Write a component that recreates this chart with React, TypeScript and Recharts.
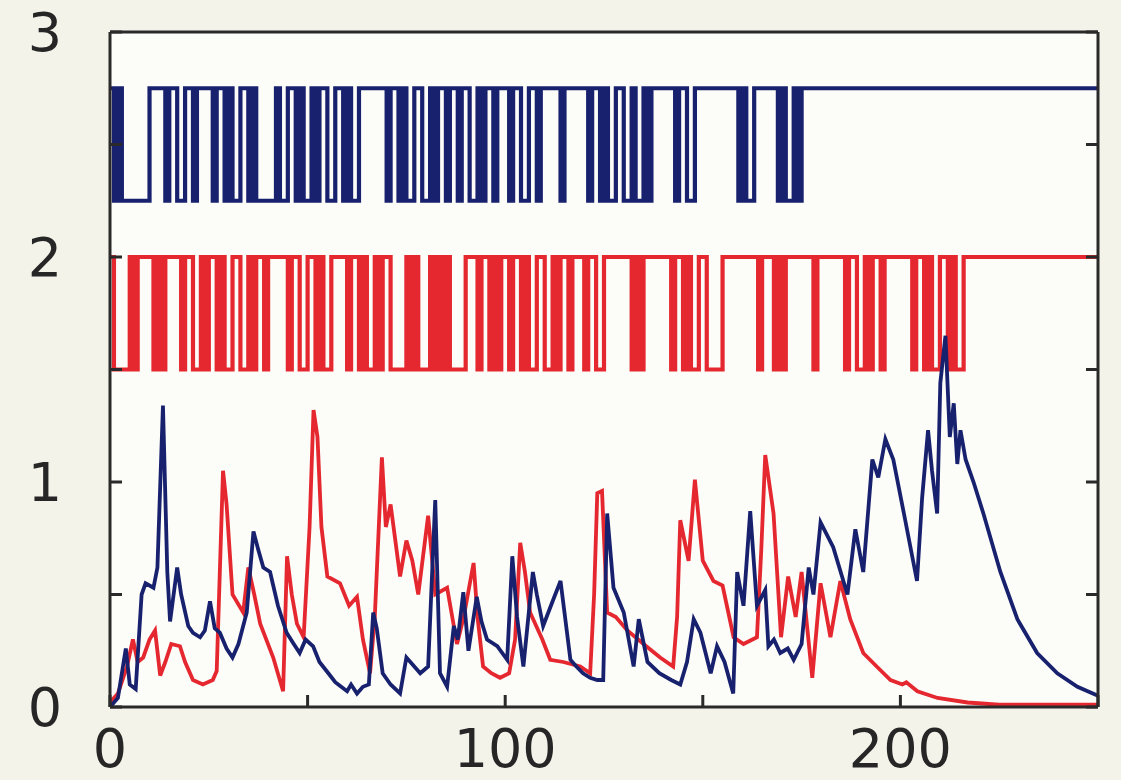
import { LineChart, Line, XAxis, YAxis, CartesianGrid } from 'recharts'

const xTicks = [0, 50, 100, 150, 200, 250]
const xLabels = [0, 100, 200]
const yTicks = [0, 0.5, 1, 1.5, 2, 2.5, 3]
const yLabels = [0, 1, 2, 3]

// channel state per time step (1 = open), last state holds to the end
const blueStates = [
  '1010000000', '1111', '011001101', '111', '011010011010', '0000',
  '1001101001011001101001', '111111', '0110100110010110', '11', '0110010110',
  '111', '011001101', '1111', '01', '11111', '0110100110010', '010', '111111',
  '011001', '1111111111', '01001', '11111', '010010', '1',
].join('')

const redStates = [
  '1000', '010', '1111', '0101', '111', '0110010110100110010110', '11111',
  '011001101001', '111', '0110100101100', '00', '101', '000', '10101', '0000',
  '11101101011011010', '0110010110', '111', '011001', '111111', '010', '1111111',
  '0110100110', '000', '111111111', '0', '111', '010', '1111111', '01', '111111',
  '0110010110', '1111111', '0110100110100', '1',
].join('')

const blueLevels = [2.25, 2.75]
const redLevels = [1.5, 2.0]

// [time, rate]
const blueRate: [number, number][] = [
  [0, 0], [2, 0.04], [4, 0.26], [5, 0.1], [6.5, 0.08], [8, 0.5], [9, 0.55], [11, 0.53],
  [12, 0.62], [13.4, 1.34], [14.5, 0.6], [15.2, 0.38], [17, 0.62], [18, 0.5], [19.8, 0.36],
  [21, 0.33], [22.8, 0.31], [24, 0.34], [25.3, 0.47], [26.5, 0.35], [27.8, 0.33], [29.5, 0.26],
  [31, 0.22], [32.5, 0.28], [34.6, 0.42], [36.3, 0.78], [37.5, 0.7], [38.8, 0.62], [40.5, 0.6],
  [42.5, 0.45], [44.7, 0.33], [46.5, 0.28], [48, 0.24], [49.5, 0.3], [51.4, 0.27], [53, 0.2],
  [54.8, 0.16], [57, 0.11], [58.5, 0.09], [60, 0.07], [61, 0.1], [62.5, 0.06], [64, 0.09],
  [65.5, 0.1], [66.6, 0.42], [67.5, 0.35], [69, 0.15], [71, 0.1], [73.4, 0.06], [75, 0.22],
  [77, 0.18], [78.5, 0.15], [80.5, 0.18], [82.3, 0.92], [83.5, 0.15], [85.3, 0.09], [87, 0.36],
  [88, 0.3], [89.4, 0.51], [90.7, 0.25], [92.8, 0.49], [94, 0.38], [95.4, 0.3], [98, 0.27],
  [100.5, 0.21], [101.8, 0.67], [103, 0.4], [104.6, 0.18], [107, 0.6], [108, 0.5], [109.6, 0.36],
  [112, 0.47], [114, 0.56], [116.5, 0.21], [118, 0.18], [119.7, 0.15], [121.5, 0.13],
  [123.3, 0.12], [124.8, 0.12], [125.8, 0.86], [127.4, 0.53], [130, 0.42], [132.5, 0.18],
  [133.8, 0.39], [136, 0.2], [139, 0.15], [142, 0.12], [144.3, 0.1], [146, 0.2], [147.7, 0.39],
  [149.4, 0.33], [152, 0.15], [153.6, 0.27], [155.5, 0.2], [157.7, 0.06], [158.7, 0.6],
  [160.3, 0.45], [162, 0.87], [163.7, 0.45], [165.8, 0.52], [166.6, 0.27], [168, 0.3],
  [169.6, 0.24], [171.5, 0.26], [173, 0.21], [175, 0.28], [176.8, 0.62], [178, 0.5],
  [179.8, 0.82], [183, 0.71], [186.6, 0.5], [188.6, 0.79], [190.6, 0.6], [192.9, 1.1],
  [194.4, 1.02], [196.2, 1.19], [198.2, 1.1], [201, 0.85], [204.2, 0.56], [205.5, 0.93],
  [207, 1.23], [208, 1.05], [209.3, 0.86], [210.1, 1.44], [211.4, 1.65], [212.5, 1.2],
  [213.5, 1.35], [214.4, 1.08], [215.2, 1.23], [216.5, 1.1], [218.5, 1.0], [221, 0.86],
  [225.3, 0.6], [229.6, 0.39], [234.6, 0.24], [239.7, 0.15], [244.8, 0.09], [250, 0.05],
]

const redRate: [number, number][] = [
  [0, 0.02], [2, 0.06], [4.3, 0.18], [5.8, 0.3], [7, 0.2], [8.4, 0.22], [10, 0.3], [11.4, 0.34],
  [12.7, 0.14], [14, 0.2], [15.5, 0.28], [17.7, 0.27], [19, 0.2], [21, 0.12], [23.5, 0.1],
  [26, 0.12], [27, 0.16], [28.6, 1.05], [29.5, 0.9], [31, 0.5], [33.7, 0.42], [35, 0.62],
  [36.5, 0.5], [38, 0.37], [41.3, 0.22], [43.8, 0.07], [44.8, 0.67], [46, 0.5], [47.3, 0.37],
  [49, 0.31], [50.5, 0.8], [51.5, 1.32], [52.5, 1.2], [53.5, 0.8], [55, 0.58], [58.2, 0.55],
  [60.5, 0.45], [62.5, 0.49], [64, 0.3], [65.8, 0.15], [67, 0.4], [68.8, 1.11], [69.8, 0.8],
  [71, 0.9], [73.4, 0.58], [75, 0.74], [76.5, 0.65], [78, 0.5], [80.5, 0.85], [82.3, 0.5],
  [85.3, 0.53], [87.8, 0.28], [89.5, 0.4], [92, 0.64], [93, 0.4], [94.4, 0.18], [96.5, 0.15],
  [98.7, 0.13], [101, 0.15], [102.5, 0.3], [103.8, 0.73], [105, 0.6], [106.3, 0.42],
  [109.4, 0.3], [111.4, 0.21], [114.7, 0.2], [119, 0.18], [121.5, 0.15], [122.5, 0.5],
  [123.3, 0.95], [124.5, 0.96], [125.8, 0.42], [128, 0.4], [130.9, 0.34], [135, 0.28],
  [139.2, 0.22], [142.5, 0.18], [143.5, 0.4], [144.3, 0.83], [146.4, 0.65], [148, 1.01],
  [150, 0.65], [152.7, 0.56], [155, 0.54], [157.8, 0.31], [160.3, 0.28], [163.7, 0.31],
  [164.8, 0.7], [165.8, 1.12], [167.9, 0.86], [169.8, 0.31], [171.6, 0.58], [173.5, 0.4],
  [175, 0.6], [177.7, 0.13], [179.8, 0.55], [182.3, 0.31], [184.8, 0.56], [187.3, 0.39],
  [190.6, 0.24], [194, 0.18], [197.5, 0.12], [200.5, 0.1], [201.5, 0.11], [204.3, 0.07],
  [209.4, 0.04], [217, 0.02], [225, 0.01], [250, 0.01],
]

const T_END = 250

function toSteps(states: string, levels: number[]) {
  const rows = []
  for (let t = 0; t <= T_END; t++) {
    const s = t < states.length ? states[t] : states[states.length - 1]
    rows.push({ t, v: levels[s === '1' ? 1 : 0] })
  }
  return rows
}

const toRows = (pairs: [number, number][]) => pairs.map(([t, v]) => ({ t, v }))

const NAVY = '#18216e'
const RED = '#e5282f'
const FRAME = '#2a2a2a'
const tickFont = { fontSize: 54, fill: '#262626', fontFamily: 'DejaVu Sans' }

export default function App() {
  const blueWave = toSteps(blueStates, blueLevels)
  const redWave = toSteps(redStates, redLevels)

  return (
    <div style={{ position: 'absolute', left: 0, top: 0, width: 1121, height: 780, background: '#f4f3ea' }}>
      <LineChart width={1121} height={780} margin={{ top: 0, right: 0, bottom: 0, left: 40 }}>
        <CartesianGrid horizontal={false} vertical={false} fill="#fcfcf9" />
        <XAxis
          dataKey="t"
          type="number"
          domain={[0, T_END]}
          ticks={xTicks}
          interval={0}
          height={73}
          tickSize={-12}
          tickMargin={34}
          tick={tickFont}
          tickFormatter={(v: number) => (xLabels.includes(v) ? String(v) : '')}
          axisLine={{ stroke: FRAME, strokeWidth: 3 }}
          tickLine={{ stroke: FRAME, strokeWidth: 3 }}
        />
        <XAxis
          xAxisId="top"
          orientation="top"
          dataKey="t"
          type="number"
          domain={[0, T_END]}
          height={32}
          tick={false}
          tickLine={false}
          axisLine={{ stroke: FRAME, strokeWidth: 3 }}
        />
        <YAxis
          type="number"
          domain={[0, 3]}
          ticks={yTicks}
          interval={0}
          width={70}
          tickSize={-12}
          tickMargin={60}
          tick={tickFont}
          tickFormatter={(v: number) => (yLabels.includes(v) ? String(v) : '')}
          axisLine={{ stroke: FRAME, strokeWidth: 3 }}
          tickLine={{ stroke: FRAME, strokeWidth: 3 }}
        />
        <YAxis
          yAxisId="right"
          orientation="right"
          type="number"
          domain={[0, 3]}
          ticks={yTicks}
          interval={0}
          width={23}
          tickSize={-12}
          tickFormatter={() => ''}
          axisLine={{ stroke: FRAME, strokeWidth: 3 }}
          tickLine={{ stroke: FRAME, strokeWidth: 3 }}
        />
        <Line
          data={redWave}
          xAxisId="top"
          dataKey="v"
          type="stepAfter"
          stroke={RED}
          strokeWidth={4.2}
          dot={false}
          isAnimationActive={false}
        />
        <Line
          data={blueWave}
          yAxisId="right"
          dataKey="v"
          type="stepAfter"
          stroke={NAVY}
          strokeWidth={4.2}
          dot={false}
          isAnimationActive={false}
        />
        <Line
          data={toRows(redRate)}
          dataKey="v"
          type="linear"
          stroke={RED}
          strokeWidth={3.8}
          dot={false}
          isAnimationActive={false}
        />
        <Line
          data={toRows(blueRate)}
          dataKey="v"
          type="linear"
          stroke={NAVY}
          strokeWidth={3.8}
          dot={false}
          isAnimationActive={false}
        />
      </LineChart>
    </div>
  )
}
